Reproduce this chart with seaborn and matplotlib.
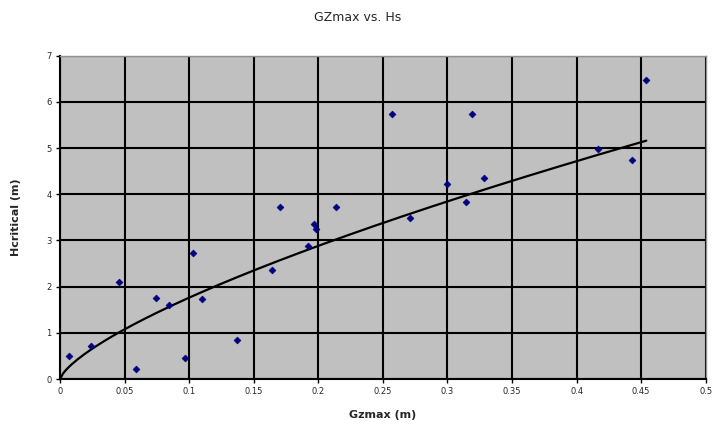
import numpy as np
import pandas as pd
import matplotlib
matplotlib.use("Agg")
import matplotlib.pyplot as plt
import seaborn as sns

# GZmax (m) and Hcritical (m)
gzmax = [0.007, 0.024, 0.046, 0.059, 0.074, 0.084, 0.097, 0.103, 0.110, 0.137,
         0.164, 0.170, 0.192, 0.197, 0.198, 0.214, 0.257, 0.271, 0.300, 0.314,
         0.319, 0.328, 0.4165, 0.443, 0.454]
hcrit = [0.50, 0.72, 2.10, 0.22, 1.75, 1.60, 0.45, 2.73, 1.73, 0.84,
         2.36, 3.73, 2.88, 3.36, 3.24, 3.73, 5.74, 3.48, 4.22, 3.84,
         5.74, 4.36, 4.98, 4.74, 6.47]

x_ticks = [0, 0.05, 0.1, 0.15, 0.2, 0.25, 0.3, 0.35, 0.4, 0.45, 0.5]
y_ticks = [0, 1, 2, 3, 4, 5, 6, 7]

df = pd.DataFrame({"gzmax": gzmax, "hcrit": hcrit})

# power trendline y = a * x^b fitted in log space (like Excel)
b, log_a = np.polyfit(np.log(df["gzmax"]), np.log(df["hcrit"]), 1)
x_fit = np.linspace(0, df["gzmax"].max(), 200)
trend = pd.DataFrame({"x": x_fit, "y": np.exp(log_a) * x_fit ** b})

sns.set_style("white")
fig = plt.figure(figsize=(7.15, 4.25), dpi=100)
ax = fig.add_axes([0.084, 0.108, 0.903, 0.761])
ax.set_facecolor("#C0C0C0")

sns.lineplot(data=trend, x="x", y="y", color="black", linewidth=1.6, ax=ax, zorder=3)
sns.scatterplot(data=df, x="gzmax", y="hcrit", marker="D", s=12, color="#000080",
                edgecolor="#000080", linewidth=0.5, ax=ax, zorder=4)

ax.set_xlim(0, 0.5)
ax.set_ylim(0, 7)
ax.set_xticks(x_ticks)
ax.set_xticklabels([f"{t:g}" for t in x_ticks])
ax.set_yticks(y_ticks)
ax.grid(True, color="black", linewidth=1.5)
ax.set_axisbelow(True)
ax.tick_params(axis="both", labelsize=6, length=3, width=1, color="black",
               direction="out", pad=3)
ax.tick_params(axis="both", which="both", bottom=True, left=True)
for side in ["top", "right"]:
    ax.spines[side].set_color("#909090")
    ax.spines[side].set_linewidth(1)
for side in ["bottom", "left"]:
    ax.spines[side].set_color("black")
    ax.spines[side].set_linewidth(1.5)

ax.set_xlabel("Gzmax (m)", fontsize=8, fontweight="bold", labelpad=10)
ax.set_ylabel("Hcritical (m)", fontsize=8, fontweight="bold", labelpad=18)
fig.suptitle("GZmax vs. Hs", fontsize=9, y=0.975)

plt.savefig("out.png", dpi=100)
